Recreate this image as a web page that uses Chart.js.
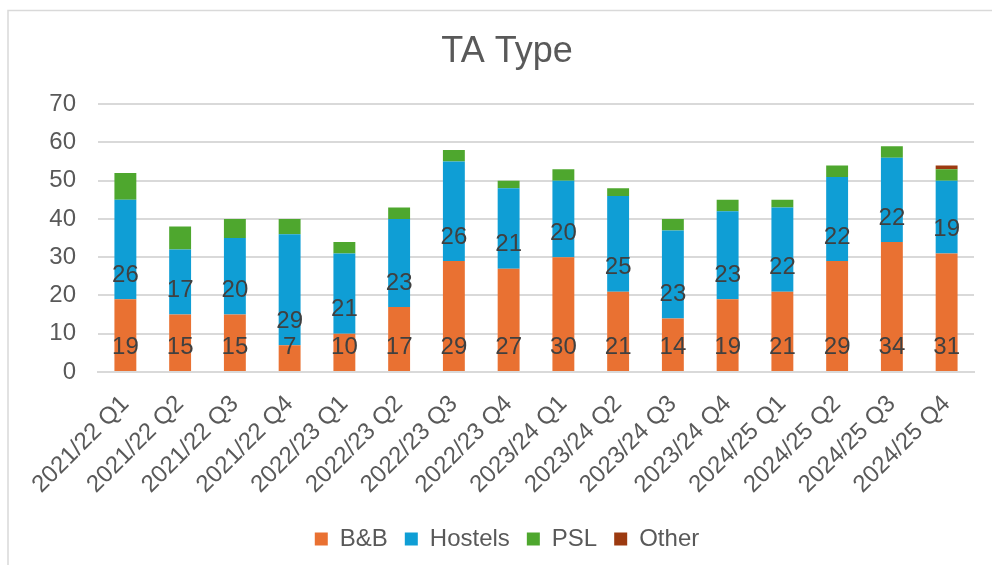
<!DOCTYPE html>
<html>
<head>
<meta charset="utf-8">
<script src="https://cdn.jsdelivr.net/npm/chart.js@4.4.1/dist/chart.umd.min.js"></script>
<style>
  html, body { margin: 0; padding: 0; background: #ffffff; }
  #wrap { position: relative; width: 992px; height: 565px; }
</style>
</head>
<body>
<div id="wrap"><canvas id="c" width="992" height="565"></canvas></div>
<script>
const categories = ["2021/22 Q1","2021/22 Q2","2021/22 Q3","2021/22 Q4","2022/23 Q1","2022/23 Q2","2022/23 Q3","2022/23 Q4","2023/24 Q1","2023/24 Q2","2023/24 Q3","2023/24 Q4","2024/25 Q1","2024/25 Q2","2024/25 Q3","2024/25 Q4"];
const bnb     = [19,15,15,7,10,17,29,27,30,21,14,19,21,29,34,31];
const hostels = [26,17,20,29,21,23,26,21,20,25,23,23,22,22,22,19];
const psl     = [7,6,5,4,3,3,3,2,3,2,3,3,2,3,3,3];
const other   = [0,0,0,0,0,0,0,0,0,0,0,0,0,0,0,1];
const yTicks  = [0,10,20,30,40,50,60,70];

const FONT = "'Liberation Sans', Arial, sans-serif";
const GREY = "#595959";

const frame = {
  id: 'frame',
  beforeDraw(chart) {
    const ctx = chart.ctx;
    ctx.save();
    ctx.fillStyle = '#ffffff';
    ctx.fillRect(0, 0, chart.width, chart.height);
    ctx.strokeStyle = '#d9d9d9';
    ctx.lineWidth = 1.5;
    ctx.beginPath();
    ctx.moveTo(8, chart.height);
    ctx.lineTo(8, 10.5);
    ctx.lineTo(chart.width, 10.5);
    ctx.stroke();
    ctx.restore();
  }
};

const valueLabels = {
  id: 'valueLabels',
  afterDatasetsDraw(chart) {
    const ctx = chart.ctx;
    ctx.save();
    ctx.font = "24px " + FONT;
    ctx.fillStyle = "#404040";
    ctx.textAlign = 'center';
    ctx.textBaseline = 'middle';
    [0, 1].forEach(di => {
      const meta = chart.getDatasetMeta(di);
      const data = chart.data.datasets[di].data;
      meta.data.forEach((el, i) => {
        ctx.fillText(String(data[i]), el.x, el.base - 24);
      });
    });
    ctx.restore();
  }
};

new Chart(document.getElementById('c'), {
  type: 'bar',
  data: {
    labels: categories,
    datasets: [
      { label: 'B&B', data: bnb, backgroundColor: '#E97132' },
      { label: 'Hostels', data: hostels, backgroundColor: '#0F9ED5' },
      { label: 'PSL', data: psl, backgroundColor: '#4EA72E' },
      { label: 'Other', data: other, backgroundColor: '#9C3A10' }
    ]
  },
  options: {
    responsive: false,
    animation: false,
    devicePixelRatio: 1,
    layout: { padding: { left: 40, right: 18, top: 0, bottom: 4 } },
    datasets: { bar: { barPercentage: 0.8, categoryPercentage: 0.5, borderWidth: 0 } },
    plugins: {
      title: {
        display: true,
        text: 'TA Type',
        color: GREY,
        font: { family: FONT, size: 36, weight: 'normal' },
        padding: { top: 30, bottom: 31 }
      },
      legend: {
        position: 'bottom',
        labels: {
          color: GREY,
          font: { family: FONT, size: 24 },
          boxWidth: 13,
          boxHeight: 13,
          padding: 17
        }
      },
      tooltip: { enabled: false }
    },
    scales: {
      x: {
        stacked: true,
        grid: { display: false, drawTicks: false },
        border: { display: true, color: '#d9d9d9', width: 2 },
        afterFit(scale) { scale.height = 138; },
        ticks: {
          color: GREY,
          font: { family: FONT, size: 24 },
          maxRotation: 45,
          minRotation: 45,
          padding: 18,
          autoSkip: false
        }
      },
      y: {
        stacked: true,
        min: 0,
        max: 70,
        afterBuildTicks(scale) { scale.ticks = yTicks.map(v => ({ value: v })); },
        afterFit(scale) { scale.width = 58; },
        grid: { color: '#d9d9d9', lineWidth: 2, drawTicks: false },
        border: { display: false },
        ticks: {
          color: GREY,
          font: { family: FONT, size: 24 },
          padding: 22
        }
      }
    }
  },
  plugins: [frame, valueLabels]
});
</script>
</body>
</html>
